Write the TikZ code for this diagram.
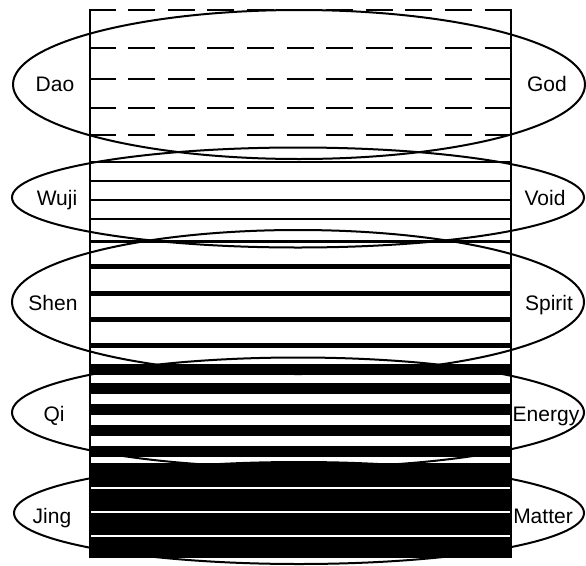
\documentclass[tikz,border=0pt]{standalone}
\usepackage{fontspec}
\setmainfont{Liberation Sans}

\begin{document}
\begin{tikzpicture}[
  x=1pt,
  y=-1pt,
  line cap=butt,
  sidewall/.style={draw=black,line width=2pt},
  dashrule/.style={
    draw=black,
    line width=2.6pt,
    dash pattern=on 27pt off 12.6pt,
    dash phase=1.5pt
  },
  thinrule/.style={draw=black,line width=2pt},
  midrule/.style={draw=black,line width=5pt},
  band/.style={draw=black,line width=11pt},
  whiteline/.style={draw=white,line width=1.6pt},
  ring/.style={draw=black,line width=2pt},
  wordlabel/.style={anchor=base,inner sep=0pt,font=\fontsize{21}{25}\selectfont}
]
\useasboundingbox (0,0) rectangle (586,565);

% Jing / Matter: a solid block cut by three white hairlines.
\fill[black] (90,463) rectangle (511,558);
\draw[whiteline] (90,488) -- (511,488);
\draw[whiteline] (90,512) -- (511,512);
\draw[whiteline] (90,536) -- (511,536);

% Qi / Energy: broad black bands.
\draw[band] (90,369) -- (511,369);
\draw[band] (90,388.5) -- (511,388.5);
\draw[band] (90,409.5) -- (511,409.5);
\draw[band] (90,430.5) -- (511,430.5);
\draw[band] (90,451.5) -- (511,451.5);

% Shen / Spirit: heavier rules.
\draw[draw=black,line width=3pt] (90,241) -- (511,241);
\draw[midrule] (90,266) -- (511,266);
\draw[midrule] (90,293) -- (511,293);
\draw[midrule] (90,319) -- (511,319);
\draw[midrule] (90,345) -- (511,345);

% Wuji / Void: thin rules.
\draw[thinrule] (90,162) -- (511,162);
\draw[thinrule] (90,181) -- (511,181);
\draw[thinrule] (90,200) -- (511,200);
\draw[thinrule] (90,219) -- (511,219);

% Dao / God: dashed rules, the top one closes the box.
\draw[dashrule] (90,10) -- (511,10);
\draw[dashrule] (90,48) -- (511,48);
\draw[dashrule] (90,79) -- (511,79);
\draw[dashrule] (90,108) -- (511,108);
\draw[dashrule] (90,135) -- (511,135);

% sides of the column
\draw[sidewall] (90,9) -- (90,558);
\draw[sidewall] (511,9) -- (511,558);

% one ellipse for each level
\draw[ring] (299,84.5) ellipse [x radius=286pt, y radius=74.5pt];
\draw[ring] (298,197.5) ellipse [x radius=286pt, y radius=50pt];
\draw[ring] (298,302) ellipse [x radius=286pt, y radius=72pt];
\draw[ring] (298,412.5) ellipse [x radius=286pt, y radius=55pt];
\draw[ring] (299,513) ellipse [x radius=285pt, y radius=51pt];

% names on the left, their counterparts on the right
\node[wordlabel] (dao)    at (55,91)   {Dao};
\node[wordlabel] (wuji)   at (57,205)  {Wuji};
\node[wordlabel] (shen)   at (53,310)  {Shen};
\node[wordlabel] (qi)     at (54,421)  {Qi};
\node[wordlabel] (jing)   at (52,523)  {Jing};

\node[wordlabel] (god)    at (547,91)  {God};
\node[wordlabel] (void)   at (545,205) {Void};
\node[wordlabel] (spirit) at (549,310) {Spirit};
\node[wordlabel] (energy) at (546,421) {Energy};
\node[wordlabel] (matter) at (543,523) {Matter};

\end{tikzpicture}
\end{document}
